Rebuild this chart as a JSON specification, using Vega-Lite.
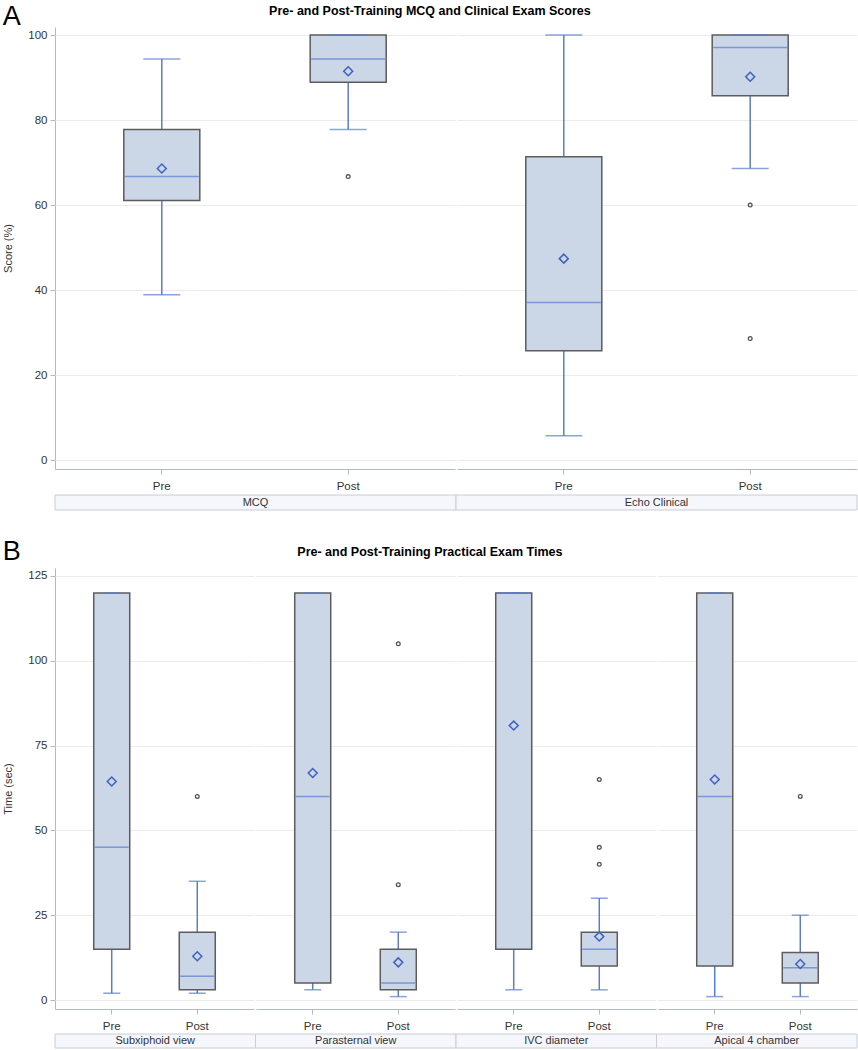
{
  "$schema": "https://vega.github.io/schema/vega-lite/v6.json",
  "padding": {"left": 2, "top": 2, "right": 2, "bottom": 2},
  "background": "white",
  "config": {
    "font": "Liberation Sans",
    "view": {"stroke": null},
    "axis": {"labelFont": "Liberation Sans", "titleFont": "Liberation Sans", "labelFontSize": 11.5, "titleFontSize": 11, "labelColor": "#333333", "titleColor": "#333333", "titleFontWeight": "normal", "domainColor": "#b4b8c0", "tickColor": "#b4b8c0", "tickSize": 5, "gridColor": "#ebebeb"},
    "title": {"font": "Liberation Sans", "color": "#000000"}
  },
  "datasets": {
    "box": [
      {"panel": "A", "group": "MCQ", "phase": "Pre", "kind": "box", "lo": 38.9, "q1": 61.1, "med": 66.7, "q3": 77.8, "hi": 94.4, "mean": 68.6},
      {"panel": "A", "group": "MCQ", "phase": "Post", "kind": "box", "lo": 77.8, "q1": 88.9, "med": 94.4, "q3": 100, "hi": 100, "mean": 91.5},
      {"panel": "A", "group": "MCQ", "phase": "Post", "kind": "outlier", "value": 66.7},
      {"panel": "A", "group": "Echo Clinical", "phase": "Pre", "kind": "box", "lo": 5.7, "q1": 25.7, "med": 37.1, "q3": 71.4, "hi": 100, "mean": 47.4},
      {"panel": "A", "group": "Echo Clinical", "phase": "Post", "kind": "box", "lo": 68.6, "q1": 85.7, "med": 97.1, "q3": 100, "hi": 100, "mean": 90.2},
      {"panel": "A", "group": "Echo Clinical", "phase": "Post", "kind": "outlier", "value": 60},
      {"panel": "A", "group": "Echo Clinical", "phase": "Post", "kind": "outlier", "value": 28.6},
      {"panel": "B", "group": "Subxiphoid view", "phase": "Pre", "kind": "box", "lo": 2, "q1": 15, "med": 45, "q3": 120, "hi": 120, "mean": 64.4},
      {"panel": "B", "group": "Subxiphoid view", "phase": "Post", "kind": "box", "lo": 2, "q1": 3, "med": 7, "q3": 20, "hi": 35, "mean": 12.9},
      {"panel": "B", "group": "Subxiphoid view", "phase": "Post", "kind": "outlier", "value": 60},
      {"panel": "B", "group": "Parasternal view", "phase": "Pre", "kind": "box", "lo": 3, "q1": 5, "med": 60, "q3": 120, "hi": 120, "mean": 66.9},
      {"panel": "B", "group": "Parasternal view", "phase": "Post", "kind": "box", "lo": 1, "q1": 3, "med": 5, "q3": 15, "hi": 20, "mean": 11.1},
      {"panel": "B", "group": "Parasternal view", "phase": "Post", "kind": "outlier", "value": 105},
      {"panel": "B", "group": "Parasternal view", "phase": "Post", "kind": "outlier", "value": 34},
      {"panel": "B", "group": "IVC diameter", "phase": "Pre", "kind": "box", "lo": 3, "q1": 15, "med": 120, "q3": 120, "hi": 120, "mean": 80.9},
      {"panel": "B", "group": "IVC diameter", "phase": "Post", "kind": "box", "lo": 3, "q1": 10, "med": 15, "q3": 20, "hi": 30, "mean": 18.7},
      {"panel": "B", "group": "IVC diameter", "phase": "Post", "kind": "outlier", "value": 65},
      {"panel": "B", "group": "IVC diameter", "phase": "Post", "kind": "outlier", "value": 45},
      {"panel": "B", "group": "IVC diameter", "phase": "Post", "kind": "outlier", "value": 40},
      {"panel": "B", "group": "Apical 4 chamber", "phase": "Pre", "kind": "box", "lo": 1, "q1": 10, "med": 60, "q3": 120, "hi": 120, "mean": 65},
      {"panel": "B", "group": "Apical 4 chamber", "phase": "Post", "kind": "box", "lo": 1, "q1": 5, "med": 9.5, "q3": 14, "hi": 25, "mean": 10.6},
      {"panel": "B", "group": "Apical 4 chamber", "phase": "Post", "kind": "outlier", "value": 60}
    ]
  },
  "spacing": 26,
  "vconcat": [
    {
      "title": {"text": "A", "anchor": "start", "frame": "bounds", "fontSize": 27, "fontWeight": "normal", "offset": -26},
      "spacing": 2,
      "vconcat": [
        {
          "title": {"text": "Pre- and Post-Training MCQ and Clinical Exam Scores", "fontSize": 12.5, "fontWeight": "bold", "anchor": "middle", "offset": 10},
          "data": {"name": "box"},
          "transform": [{"filter": "datum.panel === 'A'"}],
          "facet": {"column": {"field": "group", "type": "nominal", "sort": ["MCQ", "Echo Clinical"], "header": {"title": null, "labels": false}}},
          "spacing": {"column": 2},
          "spec": {
            "width": 400,
            "height": 442,
            "encoding": {
              "x": {"field": "phase", "type": "nominal", "sort": ["Pre", "Post"], "title": null, "scale": {"type": "band", "paddingInner": 0, "paddingOuter": 0.073}, "axis": {"labelAngle": 0, "labelPadding": 6, "grid": false}}
            },
            "layer": [
              {
                "transform": [{"filter": "datum.kind === 'box'"}],
                "mark": {"type": "rule", "color": "#5a7ccf", "strokeWidth": 1.5},
                "encoding": {
                  "y": {"field": "lo", "type": "quantitative", "title": "Score (%)", "scale": {"domain": [-2.1, 101.9], "nice": false, "zero": false}, "axis": {"values": [0, 20, 40, 60, 80, 100], "grid": true, "titlePadding": 14, "labelPadding": 3}},
                  "y2": {"field": "hi"}
                }
              },
              {
                "transform": [{"filter": "datum.kind === 'box'"}],
                "mark": {"type": "bar", "size": 76, "fill": "#cbd6e7", "stroke": "#5c5c5c", "strokeWidth": 1.5},
                "encoding": {
                  "y": {"field": "q1", "type": "quantitative", "title": "Score (%)"},
                  "y2": {"field": "q3"}
                }
              },
              {
                "transform": [{"filter": "datum.kind === 'box'"}],
                "mark": {"type": "tick", "size": 37, "thickness": 1.5, "color": "#5a7ccf"},
                "encoding": {"y": {"field": "lo", "type": "quantitative", "title": "Score (%)"}}
              },
              {
                "transform": [{"filter": "datum.kind === 'box'"}],
                "mark": {"type": "tick", "size": 37, "thickness": 1.5, "color": "#5a7ccf"},
                "encoding": {"y": {"field": "hi", "type": "quantitative", "title": "Score (%)"}}
              },
              {
                "transform": [{"filter": "datum.kind === 'box'"}],
                "mark": {"type": "tick", "size": 74, "thickness": 1.5, "color": "#5a7ccf"},
                "encoding": {"y": {"field": "med", "type": "quantitative", "title": "Score (%)"}}
              },
              {
                "transform": [{"filter": "datum.kind === 'box'"}],
                "mark": {"type": "point", "shape": "diamond", "filled": false, "size": 80, "stroke": "#3d62c4", "strokeWidth": 1.5, "opacity": 1},
                "encoding": {"y": {"field": "mean", "type": "quantitative", "title": "Score (%)"}}
              },
              {
                "transform": [{"filter": "datum.kind === 'outlier'"}],
                "mark": {"type": "point", "shape": "circle", "filled": false, "size": 14, "stroke": "#555555", "strokeWidth": 1.3, "opacity": 1},
                "encoding": {"y": {"field": "value", "type": "quantitative", "title": "Score (%)"}}
              }
            ]
          }
        },
        {
          "width": 802,
          "height": 15,
          "data": {"name": "box"},
          "transform": [{"filter": "datum.panel === 'A' && datum.kind === 'box' && datum.phase === 'Pre'"}],
          "encoding": {
            "x": {"field": "group", "type": "nominal", "scale": {"domain": ["MCQ", "Echo Clinical"], "paddingInner": 0, "paddingOuter": 0}, "axis": null}
          },
          "layer": [
            {"mark": {"type": "rect", "fill": "#f5f7fc", "stroke": "#c8ccd4", "strokeWidth": 1}},
            {"mark": {"type": "text", "fontSize": 11, "color": "#333333"}, "encoding": {"text": {"field": "group"}}}
          ]
        }
      ]
    },
    {
      "title": {"text": "B", "anchor": "start", "frame": "bounds", "fontSize": 27, "fontWeight": "normal", "offset": -20},
      "spacing": 1,
      "vconcat": [
        {
          "title": {"text": "Pre- and Post-Training Practical Exam Times", "fontSize": 12.5, "fontWeight": "bold", "anchor": "middle", "offset": 10},
          "data": {"name": "box"},
          "transform": [{"filter": "datum.panel === 'B'"}],
          "facet": {"column": {"field": "group", "type": "nominal", "sort": ["Subxiphoid view", "Parasternal view", "IVC diameter", "Apical 4 chamber"], "header": {"title": null, "labels": false}}},
          "spacing": {"column": 2},
          "spec": {
            "width": 199,
            "height": 441,
            "encoding": {
              "x": {"field": "phase", "type": "nominal", "sort": ["Pre", "Post"], "title": null, "scale": {"type": "band", "paddingInner": 0, "paddingOuter": 0.163}, "axis": {"labelAngle": 0, "labelPadding": 6, "grid": false}}
            },
            "layer": [
              {
                "transform": [{"filter": "datum.kind === 'box'"}],
                "mark": {"type": "rule", "color": "#5a7ccf", "strokeWidth": 1.5},
                "encoding": {
                  "y": {"field": "lo", "type": "quantitative", "title": "Time (sec)", "scale": {"domain": [-2.65, 127.35], "nice": false, "zero": false}, "axis": {"values": [0, 25, 50, 75, 100, 125], "grid": true, "titlePadding": 14, "labelPadding": 3}},
                  "y2": {"field": "hi"}
                }
              },
              {
                "transform": [{"filter": "datum.kind === 'box'"}],
                "mark": {"type": "bar", "size": 36, "fill": "#cbd6e7", "stroke": "#5c5c5c", "strokeWidth": 1.5},
                "encoding": {
                  "y": {"field": "q1", "type": "quantitative", "title": "Time (sec)"},
                  "y2": {"field": "q3"}
                }
              },
              {
                "transform": [{"filter": "datum.kind === 'box'"}],
                "mark": {"type": "tick", "size": 17, "thickness": 1.5, "color": "#5a7ccf"},
                "encoding": {"y": {"field": "lo", "type": "quantitative", "title": "Time (sec)"}}
              },
              {
                "transform": [{"filter": "datum.kind === 'box'"}],
                "mark": {"type": "tick", "size": 17, "thickness": 1.5, "color": "#5a7ccf"},
                "encoding": {"y": {"field": "hi", "type": "quantitative", "title": "Time (sec)"}}
              },
              {
                "transform": [{"filter": "datum.kind === 'box'"}],
                "mark": {"type": "tick", "size": 34, "thickness": 1.5, "color": "#5a7ccf"},
                "encoding": {"y": {"field": "med", "type": "quantitative", "title": "Time (sec)"}}
              },
              {
                "transform": [{"filter": "datum.kind === 'box'"}],
                "mark": {"type": "point", "shape": "diamond", "filled": false, "size": 80, "stroke": "#3d62c4", "strokeWidth": 1.5, "opacity": 1},
                "encoding": {"y": {"field": "mean", "type": "quantitative", "title": "Time (sec)"}}
              },
              {
                "transform": [{"filter": "datum.kind === 'outlier'"}],
                "mark": {"type": "point", "shape": "circle", "filled": false, "size": 14, "stroke": "#555555", "strokeWidth": 1.3, "opacity": 1},
                "encoding": {"y": {"field": "value", "type": "quantitative", "title": "Time (sec)"}}
              }
            ]
          }
        },
        {
          "width": 802,
          "height": 14,
          "data": {"name": "box"},
          "transform": [{"filter": "datum.panel === 'B' && datum.kind === 'box' && datum.phase === 'Pre'"}],
          "encoding": {
            "x": {"field": "group", "type": "nominal", "scale": {"domain": ["Subxiphoid view", "Parasternal view", "IVC diameter", "Apical 4 chamber"], "paddingInner": 0, "paddingOuter": 0}, "axis": null}
          },
          "layer": [
            {"mark": {"type": "rect", "fill": "#f5f7fc", "stroke": "#c8ccd4", "strokeWidth": 1}},
            {"mark": {"type": "text", "fontSize": 11, "color": "#333333"}, "encoding": {"text": {"field": "group"}}}
          ]
        }
      ]
    }
  ]
}
